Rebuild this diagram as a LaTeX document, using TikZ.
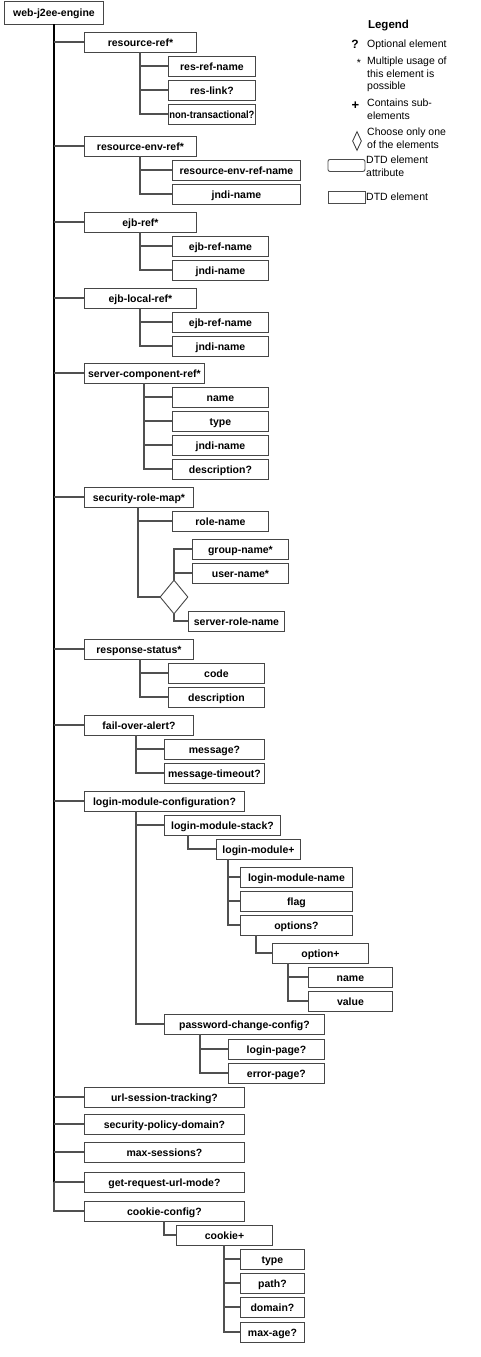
\documentclass[tikz,border=0pt]{standalone}
\usepackage{fontspec}
\setmainfont{Liberation Sans}
\usetikzlibrary{shapes.geometric}
\definecolor{boxline}{RGB}{70,70,70}
\definecolor{connline}{RGB}{80,80,80}
\tikzset{
  box/.style={draw=boxline, line width=0.9pt, fill=white, minimum height=20pt,
    inner sep=0pt, anchor=west, text height=9pt, text depth=1pt,
    font=\bfseries\fontsize{10.5}{12}\selectfont},
  conn/.style={draw=connline, line width=1.1pt},
  trunk/.style={draw=black, line width=2pt},
  legtext/.style={inner sep=0pt, anchor=north west, align=left,
    font=\fontsize{10.5}{12.5}\selectfont},
  choice/.style={draw=boxline, line width=0.9pt, fill=white, shape=diamond,
    inner sep=0pt}
}
\newcommand\bx[5]{\node[box, minimum width={#3-#2}] (#1) at (#2,#4) {#5};}
\newcommand\kids[3]{\foreach \c in {#3} {\draw[conn] ([xshift=#2pt]#1.south west) |- (\c.west);}}
\begin{document}
\begin{tikzpicture}[x=1pt,y=-1pt]
\useasboundingbox (0,0) rectangle (481,1357);
% root
\node[box, minimum width=99, minimum height=23] (root) at (4,12.5) {web-j2ee-engine};
% level 1
\bx{rr}{84}{196}{42}{resource-ref*}
\bx{rrn}{168}{255}{66}{res-ref-name}
\bx{rl}{168}{255}{90}{res-link?}
\bx{nt}{168}{255}{114}{\addfontfeature{FakeStretch=0.9}non-transactional?}
\bx{rer}{84}{196}{146}{resource-env-ref*}
\bx{rern}{172}{300}{170}{resource-env-ref-name}
\bx{jn1}{172}{300}{194}{jndi-name}
\bx{ejb}{84}{196}{222}{ejb-ref*}
\bx{ejbn1}{172}{268}{246}{ejb-ref-name}
\bx{jn2}{172}{268}{270}{jndi-name}
\bx{ejbl}{84}{196}{298}{ejb-local-ref*}
\bx{ejbn2}{172}{268}{322}{ejb-ref-name}
\bx{jn3}{172}{268}{346}{jndi-name}
\bx{scr}{84}{204}{373}{server-component-ref*}
\bx{scn}{172}{268}{397}{name}
\bx{sct}{172}{268}{421}{type}
\bx{jn4}{172}{268}{445}{jndi-name}
\bx{scd}{172}{268}{469}{description?}
\bx{srm}{84}{193}{497}{security-role-map*}
\bx{rn}{172}{268}{521}{role-name}
\bx{gn}{192}{288}{549}{group-name*}
\bx{un}{192}{288}{573}{user-name*}
\node[choice, minimum width=28pt, minimum height=34pt] (dia) at (174,597) {};
\bx{srn}{188}{284}{621}{server-role-name}
\bx{rs}{84}{193}{649}{response-status*}
\bx{code}{168}{264}{673}{code}
\bx{rsd}{168}{264}{697}{description}
\bx{foa}{84}{193}{725}{fail-over-alert?}
\bx{msg}{164}{264}{749}{message?}
\bx{msgt}{164}{264}{773}{message-timeout?}
\bx{lmc}{84}{244}{801}{login-module-configuration?}
\bx{lms}{164}{280}{825}{login-module-stack?}
\bx{lm}{216}{300}{849}{login-module+}
\bx{lmn}{240}{352}{877}{login-module-name}
\bx{flag}{240}{352}{901}{flag}
\bx{opts}{240}{352}{925}{options?}
\bx{opt}{272}{368}{953}{option+}
\bx{on}{308}{392}{977}{name}
\bx{ov}{308}{392}{1001}{value}
\bx{pcc}{164}{324}{1024}{password-change-config?}
\bx{lp}{228}{324}{1049}{login-page?}
\bx{ep}{228}{324}{1073}{error-page?}
\bx{ust}{84}{244}{1097}{url-session-tracking?}
\bx{spd}{84}{244}{1124}{security-policy-domain?}
\bx{ms}{84}{244}{1152}{max-sessions?}
\bx{grum}{84}{244}{1182}{get-request-url-mode?}
\bx{cc}{84}{244}{1211}{cookie-config?}
\bx{ck}{176}{272}{1235}{cookie+}
\bx{ct}{240}{304}{1259}{type}
\bx{cp}{240}{304}{1283}{path?}
\bx{cd}{240}{304}{1307}{domain?}
\bx{ca}{240}{304}{1332}{max-age?}
% main trunk
\draw[trunk] (root.south) -- (root.south |- grum.west);
\foreach \c in {rr,rer,ejb,ejbl,scr,srm,rs,foa,lmc,ust,spd,ms,grum}
  {\draw[conn] (root.south |- \c.west) -- (\c.west);}
\draw[conn] (root.south |- grum.west) |- (cc.west);
% sub trees
\kids{rr}{56}{rrn,rl,nt}
\kids{rer}{56}{rern,jn1}
\kids{ejb}{56}{ejbn1,jn2}
\kids{ejbl}{56}{ejbn2,jn3}
\kids{scr}{60}{scn,sct,jn4,scd}
\kids{srm}{54}{rn,dia}
\draw[conn] (dia.north) |- (gn.west);
\draw[conn] (dia.north |- un.west) -- (un.west);
\draw[conn] (dia.south) |- (srn.west);
\kids{rs}{56}{code,rsd}
\kids{foa}{52}{msg,msgt}
\kids{lmc}{52}{lms,pcc}
\kids{lms}{24}{lm}
\kids{lm}{12}{lmn,flag,opts}
\kids{opts}{16}{opt}
\kids{opt}{16}{on,ov}
\kids{pcc}{36}{lp,ep}
\kids{cc}{80}{ck}
\kids{ck}{48}{ct,cp,cd,ca}
% legend
\node[inner sep=0pt, font=\bfseries\fontsize{11.5}{13}\selectfont] (lg) at (388.5,26) {Legend};
\node[inner sep=0pt, font=\bfseries\fontsize{12}{13}\selectfont] (lq) at (355,44.5) {?};
\node[legtext, anchor=west] (lqt) at (367,45) {Optional element};
\node[inner sep=0pt, font=\fontsize{10.5}{12}\selectfont] (ls) at (359,63) {*};
\node[legtext] (lst) at (367,57) {Multiple usage of\\this element is\\possible};
\node[inner sep=0pt, font=\bfseries\fontsize{13}{13}\selectfont] (lp) at (355.5,106) {+};
\node[legtext] (lpt) at (367,99) {Contains sub-\\elements};
\node[draw=black!80, line width=0.8pt, shape=diamond, inner sep=0pt,
  minimum width=9pt, minimum height=19pt] (ld) at (357,141) {};
\node[legtext] (ldt) at (367,128) {Choose only one\\of the elements};
\node[draw=black!70, line width=0.9pt, rounded corners=2pt, minimum width=37pt,
  minimum height=12pt, inner sep=0pt, anchor=north west] (lra) at (327.5,159) {};
\node[legtext] (lrat) at (366,156) {DTD element\\attribute};
\node[draw=black!70, line width=0.9pt, minimum width=37pt,
  minimum height=12pt, inner sep=0pt, anchor=north west] (lre) at (327.5,191) {};
\node[legtext, anchor=west] (lret) at (366,197) {DTD element};
\end{tikzpicture}
\end{document}
